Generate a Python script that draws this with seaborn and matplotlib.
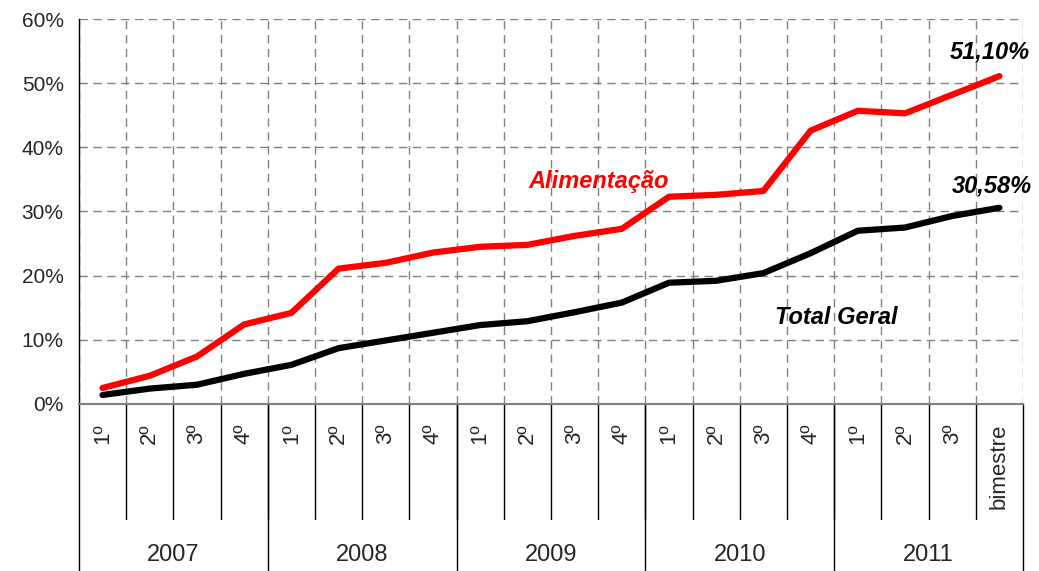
import numpy as np
import pandas as pd
import matplotlib
matplotlib.use('Agg')
import matplotlib.pyplot as plt
import matplotlib.transforms as mtransforms
import seaborn as sns

# dados (variacao acumulada, %)
anos = ['2007', '2008', '2009', '2010', '2011']
periodos = ['1º', '2º', '3º', '4º'] * 4 + ['1º', '2º', '3º', 'bimestre']
alimentacao = [2.5, 4.4, 7.4, 12.4, 14.2, 21.1, 22.0, 23.6, 24.5, 24.8,
               26.2, 27.3, 32.3, 32.6, 33.2, 42.6, 45.7, 45.3, 48.2, 51.10]
total_geral = [1.4, 2.4, 3.0, 4.7, 6.1, 8.7, 9.9, 11.1, 12.3, 12.9,
               14.3, 15.8, 18.9, 19.2, 20.4, 23.5, 27.0, 27.5, 29.3, 30.58]

sns.set_style('white')
plt.rcParams['font.family'] = ['Liberation Sans', 'DejaVu Sans']

df = pd.DataFrame({'pos': range(len(periodos)),
                   'Alimentação': alimentacao,
                   'Total Geral': total_geral})
df_long = df.melt(id_vars='pos', var_name='serie', value_name='valor')

fig = plt.figure(figsize=(10.39, 5.71), dpi=100)
ax = fig.add_axes([0.076, 0.2925, 0.9086, 0.6742])

sns.lineplot(data=df_long, x='pos', y='valor', hue='serie',
             palette={'Alimentação': '#ff0000', 'Total Geral': 'black'},
             linewidth=4.5, legend=False, ax=ax)

# eixos
n = len(periodos)
ax.set_xlim(-0.5, n - 0.5)
ax.set_ylim(0, 60)
ax.set_yticks(np.arange(0, 61, 10))
ax.set_yticklabels([f'{v:.0f}%' for v in np.arange(0, 61, 10)], fontsize=15)
ax.set_xticks(np.arange(-0.5, n, 1))
ax.set_xticklabels([])
ax.tick_params(axis='x', length=0)
ax.tick_params(axis='y', length=7, width=1, direction='out', color='black', pad=4)
ax.set_xlabel('')
ax.set_ylabel('')
ax.grid(True, color='#808080', linestyle=(0, (6, 4)), linewidth=1)
ax.spines['top'].set_visible(False)
ax.spines['right'].set_visible(False)
ax.spines['left'].set_color('black')
ax.spines['left'].set_linewidth(1)
ax.spines['bottom'].set_color('#808080')
ax.spines['bottom'].set_linewidth(1.5)

# rotulos em dois niveis abaixo do eixo
trans = mtransforms.blended_transform_factory(ax.transData, ax.transAxes)
for i, p in enumerate(periodos):
    ax.text(i, -0.05, p, transform=trans, rotation=90, ha='center', va='top',
            fontsize=16)
    if i > 0:
        ax.plot([i - 0.5, i - 0.5], [0, -0.30], transform=trans, color='black',
                lw=1, clip_on=False)

por_ano = n // len(anos)
for k, ano in enumerate(anos):
    ax.text(k * por_ano + (por_ano - 1) / 2, -0.392, ano, transform=trans,
            ha='center', va='center', fontsize=17)
    x0 = k * por_ano - 0.5
    ax.plot([x0, x0], [0, -0.45], transform=trans, color='black', lw=1,
            clip_on=False)
ax.plot([n - 0.5, n - 0.5], [0, -0.45], transform=trans, color='black', lw=1,
        clip_on=False)

# anotacoes
ax.text(10.5, 34.7, 'Alimentação', color='#ff0000', fontsize=17,
        fontweight='bold', fontstyle='italic', ha='center', va='center')
ax.text(15.55, 13.55, 'Total Geral', color='black', fontsize=17,
        fontweight='bold', fontstyle='italic', ha='center', va='center')
ax.text(18.8, 54.8, '51,10%', color='black', fontsize=17,
        fontweight='bold', fontstyle='italic', ha='center', va='center')
ax.text(18.85, 34.0, '30,58%', color='black', fontsize=17,
        fontweight='bold', fontstyle='italic', ha='center', va='center')

fig.savefig('out.png', dpi=100)
